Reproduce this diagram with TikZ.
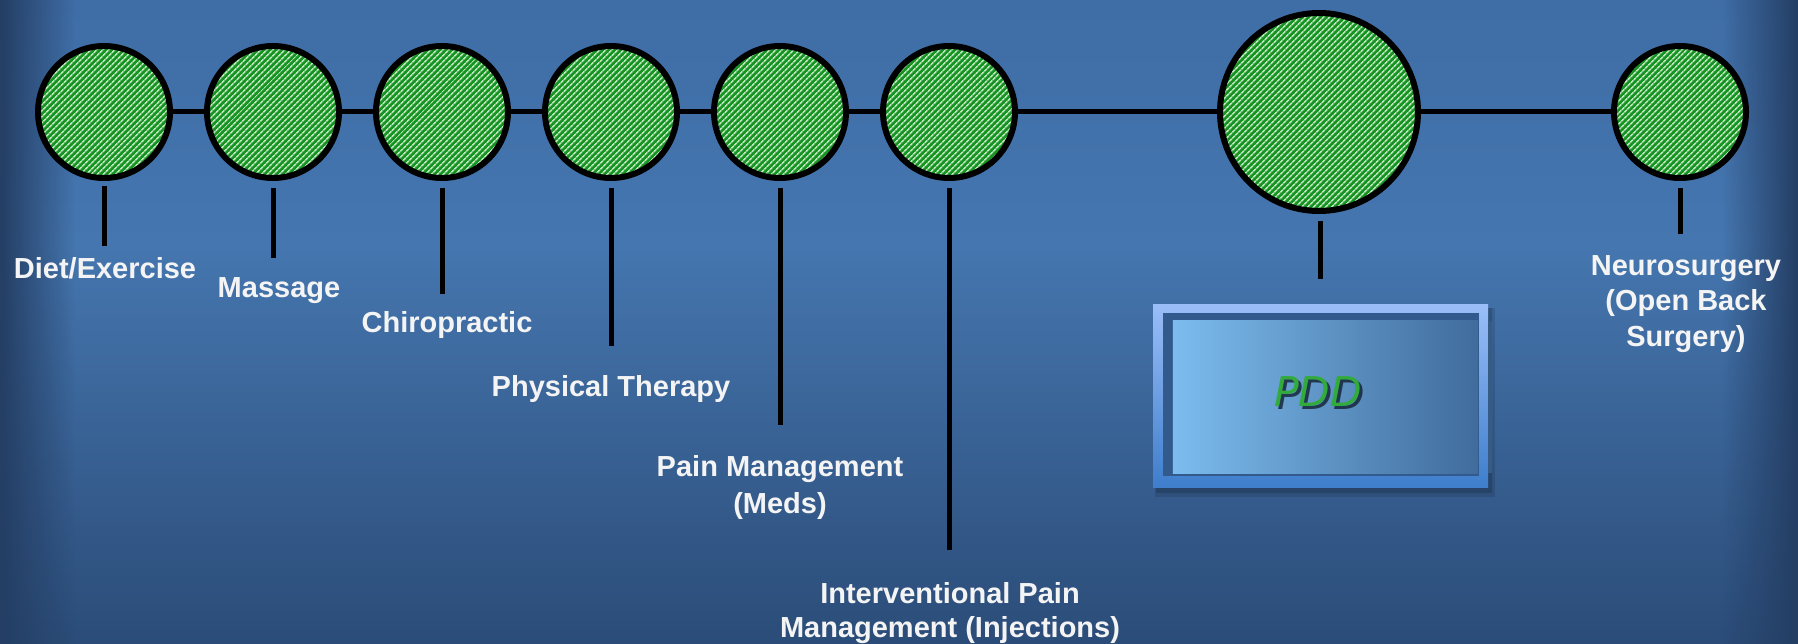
\documentclass[tikz,border=0pt]{standalone}
\usepackage{fontspec}
\setmainfont{Liberation Sans}
\newfontfamily\pddfont{DejaVu Sans}
\usetikzlibrary{patterns.meta,fadings}

\definecolor{bgtop}{RGB}{63,109,166}
\definecolor{bgmid}{RGB}{69,118,175}
\definecolor{bgbot}{RGB}{43,76,120}
\definecolor{bgedge}{RGB}{36,62,100}
\definecolor{dotgreen}{RGB}{22,148,34}
\definecolor{stripe}{RGB}{190,228,190}
\definecolor{labelwhite}{RGB}{244,244,244}
\definecolor{frametop}{RGB}{155,190,248}
\definecolor{framebot}{RGB}{62,126,204}
\definecolor{band}{RGB}{50,90,140}
\definecolor{panelleft}{RGB}{124,188,238}
\definecolor{panelright}{RGB}{64,108,156}
\definecolor{pddgreen}{RGB}{50,170,60}
\definecolor{pddshadow}{RGB}{18,32,50}

\pgfdeclareverticalshading{bgshade}{100bp}{color(0bp)=(bgbot); color(25bp)=(bgbot); color(56bp)=(bgmid); color(75bp)=(bgtop); color(100bp)=(bgtop)}

\tikzset{
  dot/.style={circle, draw=black, line width=6pt, inner sep=0pt, minimum size=132pt,
    preaction={fill=dotgreen},
    pattern={Lines[angle=45,distance=4pt,line width=1.7pt]}, pattern color=stripe},
  bigdot/.style={dot, minimum size=198pt},
  conn/.style={draw=black, line width=5pt},
  tick/.style={draw=black, line width=5pt},
  lbl/.style={text=labelwhite, font=\bfseries\fontsize{29}{35.5}\selectfont, align=center, inner sep=0pt},
  frame/.style={top color=frametop, bottom color=framebot, minimum width=335pt, minimum height=183pt, inner sep=0pt}
}

\begin{document}
\begin{tikzpicture}[x=1pt,y=-1pt]
\useasboundingbox (0,0) rectangle (1798,644);
\shade[shading=bgshade] (0,0) rectangle (1798,644);
\fill[bgedge, path fading=east] (0,0) rectangle (75,644);
\fill[bgedge, path fading=west] (1722,0) rectangle (1798,644);

% circles
\node[dot] (c1) at (104,112) {};
\node[dot] (c2) at (273,112) {};
\node[dot] (c3) at (442,112) {};
\node[dot] (c4) at (611,112) {};
\node[dot] (c5) at (780,112) {};
\node[dot] (c6) at (949,112) {};
\node[bigdot] (c7) at (1319,112) {};
\node[dot] (c8) at (1680,112) {};

\draw[conn] (c1) -- (c2);
\draw[conn] (c2) -- (c3);
\draw[conn] (c3) -- (c4);
\draw[conn] (c4) -- (c5);
\draw[conn] (c5) -- (c6);
\draw[conn] (c6) -- (c7);
\draw[conn] (c7) -- (c8);

% tick ends
\coordinate (e1) at (104,246);
\coordinate (e2) at (273,258);
\coordinate (e3) at (442,294);
\coordinate (e4) at (611,346);
\coordinate (e5) at (780,425);
\coordinate (e6) at (949,550);
\coordinate (e7) at (1320,279);
\coordinate (e8) at (1680,234);

\draw[tick] ([yshift=-7.5pt]c1.south) -- (e1);
\draw[tick] ([yshift=-7.5pt]c2.south) -- (e2);
\draw[tick] ([yshift=-7.5pt]c3.south) -- (e3);
\draw[tick] ([yshift=-7.5pt]c4.south) -- (e4);
\draw[tick] ([yshift=-7.5pt]c5.south) -- (e5);
\draw[tick] ([yshift=-7.5pt]c6.south) -- (e6);
\draw[tick] ([yshift=-7.5pt,xshift=1pt]c7.south) -- (e7);
\draw[tick] ([yshift=-7.5pt]c8.south) -- (e8);

% labels
\node[lbl, anchor=base] (l1) at (105,279) {Diet/Exercise};
\node[lbl, anchor=base] (l2) at (279,297) {Massage};
\node[lbl, anchor=base] (l3) at (447,332.5) {Chiropractic};
\node[lbl, anchor=base] (l4) at (611,396) {Physical Therapy};
\node[lbl, font=\bfseries\fontsize{29}{37}\selectfont] (l5) at (780,487.5) {Pain Management\\(Meds)};
\node[lbl, font=\bfseries\fontsize{29}{34}\selectfont] (l6) at (950,613) {Interventional Pain\\Management (Injections)};
\node[lbl] (l8) at (1686,304) {Neurosurgery\\(Open Back\\Surgery)};

% PDD box
\fill[black, opacity=0.12] (1155,308) rectangle (1495,497);
\fill[black, opacity=0.15] (1156,308) rectangle (1492,493);
\node[frame] (pdd) at (1320.5,395.5) {};
\fill[band] ([xshift=10pt,yshift=-9pt]pdd.north west) rectangle ([xshift=-9pt,yshift=11pt]pdd.south east);
\shade[left color=panelleft, right color=panelright] ([xshift=20pt,yshift=-17pt]pdd.north west) rectangle ([xshift=-10pt,yshift=14pt]pdd.south east);
\fill[panelright!85!black] ([yshift=-17pt]pdd.north east) rectangle ([xshift=4pt,yshift=14pt]pdd.south east);
\node[text=pddshadow, opacity=0.8, font=\pddfont\itshape\fontsize{41}{41}\selectfont, inner sep=0pt] (pddsh) at (1321,395) {PDD};
\node[text=pddgreen, font=\pddfont\itshape\fontsize{41}{41}\selectfont, inner sep=0pt] (pddtext) at (1318,392) {PDD};
\end{tikzpicture}
\end{document}
